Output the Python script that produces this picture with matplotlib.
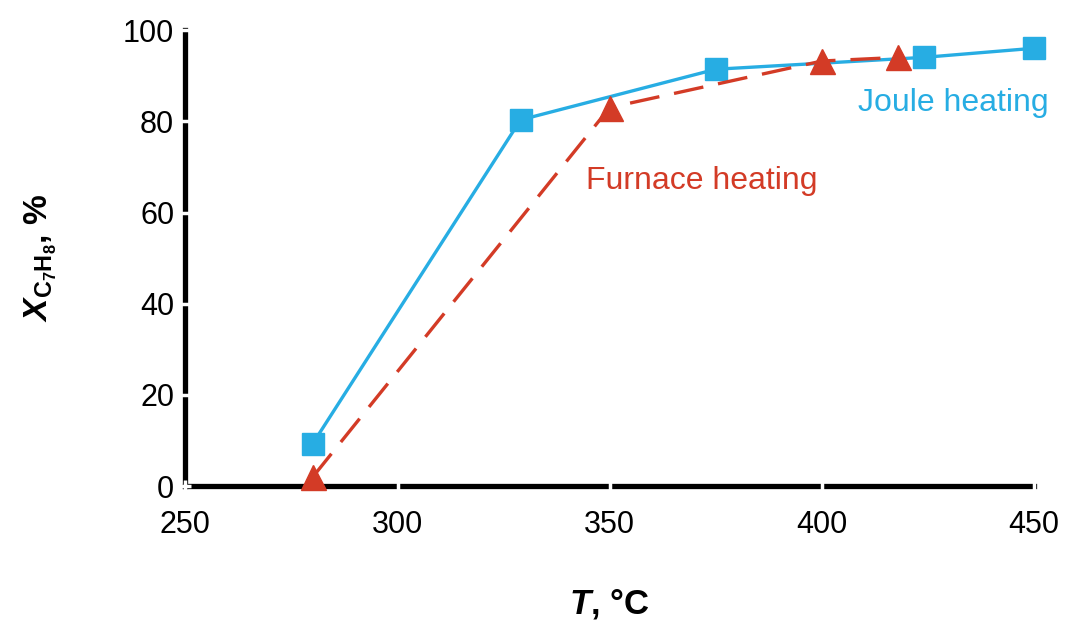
import matplotlib
matplotlib.use("Agg")
import matplotlib.pyplot as plt

plt.rcParams['font.family'] = ['Liberation Sans', 'DejaVu Sans']
plt.rcParams['mathtext.fontset'] = 'custom'
plt.rcParams['mathtext.rm'] = 'Liberation Sans'
plt.rcParams['mathtext.bf'] = 'Liberation Sans:bold'
plt.rcParams['mathtext.it'] = 'Liberation Sans:italic'
plt.rcParams['mathtext.bfit'] = 'Liberation Sans:bold:italic'

# data
joule_T = [280, 329, 375, 424, 450]
joule_X = [9.3, 80.3, 91.4, 94.0, 96.0]
furnace_T = [280, 350, 400, 418]
furnace_X = [2.0, 83.0, 93.2, 94.0]
xticks = [250, 300, 350, 400, 450]
yticks = [0, 20, 40, 60, 80, 100]

blue = '#27ADE3'
red = '#D33B26'

fig = plt.figure(figsize=(10.65, 6.25), dpi=100)
ax = fig.add_axes([0.174, 0.222, 0.797, 0.730])

ax.plot(joule_T, joule_X, color=blue, lw=2.4, marker='s', ms=16,
        mec=blue, zorder=3, clip_on=False)
ax.plot(furnace_T, furnace_X, color=red, lw=2.4, marker='^', ms=18,
        mec=red, dashes=(9, 4.5), zorder=4, clip_on=False)

ax.text(408.5, 84, 'Joule heating', color=blue, fontsize=23, va='center')
ax.text(344.5, 67, 'Furnace heating', color=red, fontsize=23, va='center')

ax.set_xlim(250, 450)
ax.set_ylim(0, 100)
ax.set_xticks(xticks)
ax.set_yticks(yticks)

# thick black axes, broken by white tick marks
for side in ['top', 'right']:
    ax.spines[side].set_visible(False)
for side in ['left', 'bottom']:
    ax.spines[side].set_linewidth(3.8)
    ax.spines[side].set_zorder(0.5)
ax.tick_params(axis='both', direction='inout', length=8, width=2.5,
               color='white', labelsize=22)
ax.tick_params(axis='x', pad=13)
ax.tick_params(axis='y', pad=4)

ax.set_xlabel(r'$\mathbfit{T}$, °C', fontsize=25, fontweight='bold',
              labelpad=34)
ax.set_ylabel(r'$\mathbfit{X}_{\mathbf{C}_{\mathbf{7}}\mathbf{H}_{\mathbf{8}}}$, %',
              fontsize=24, fontweight='bold', labelpad=46)

fig.savefig('out.png', dpi=100)
